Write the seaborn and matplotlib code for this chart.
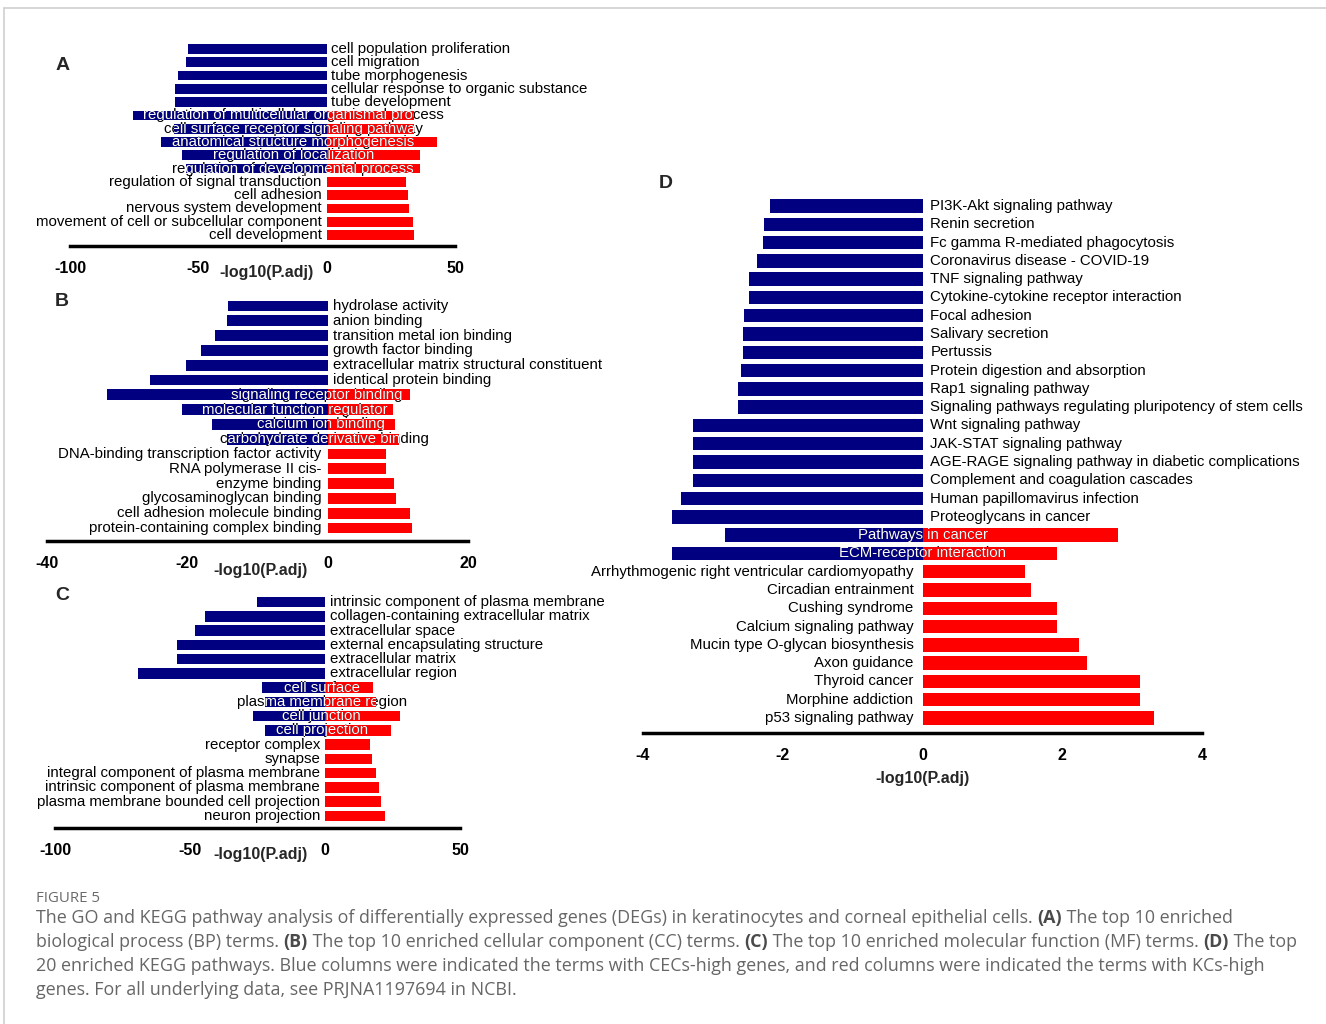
import pandas as pd
import seaborn as sns
import matplotlib.pyplot as plt
from matplotlib.lines import Line2D

W, H = 1326, 1024
NAVY = "#000080"
RED = "#ff0000"

# ---- Panel A: biological process ----
A_terms = ["cell population proliferation", "cell migration", "tube morphogenesis",
           "cellular response to organic substance", "tube development",
           "regulation of multicellular organismal process", "cell surface receptor signaling pathway",
           "anatomical structure morphogenesis", "regulation of localization",
           "regulation of developmental process", "regulation of signal transduction",
           "cell adhesion", "nervous system development",
           "movement of cell or subcellular component", "cell development"]
A_blue = [-54.2, -54.9, -57.9, -58.9, -58.9, -75.4, -59.3, -64.5, -56.4, -54.9,
          None, None, None, None, None]
A_red = [None, None, None, None, None, 34.1, 34.0, 43.0, 36.4, 36.4,
         30.9, 31.6, 32.0, 33.8, 34.1]

# ---- Panel B: molecular function ----
B_terms = ["hydrolase activity", "anion binding", "transition metal ion binding",
           "growth factor binding", "extracellular matrix structural constituent",
           "identical protein binding", "signaling receptor binding",
           "molecular function regulator", "calcium ion binding",
           "carbohydrate derivative binding", "DNA-binding transcription factor activity",
           "RNA polymerase II cis-", "enzyme binding", "glycosaminoglycan binding",
           "cell adhesion molecule binding", "protein-containing complex binding"]
B_blue = [-14.2, -14.3, -16.0, -18.1, -20.2, -25.3, -31.4, -20.7, -16.5, -14.4,
          None, None, None, None, None, None]
B_red = [None, None, None, None, None, None, 11.7, 9.3, 9.6, 10.1,
         8.3, 8.3, 9.5, 9.7, 11.7, 12.0]

# ---- Panel C: cellular component ----
C_terms = ["intrinsic component of plasma membrane", "collagen-containing extracellular matrix",
           "extracellular space", "external encapsulating structure", "extracellular matrix",
           "extracellular region", "cell surface", "plasma membrane region", "cell junction",
           "cell projection", "receptor complex", "synapse",
           "integral component of plasma membrane", "intrinsic component of plasma membrane",
           "plasma membrane bounded cell projection", "neuron projection"]
C_blue = [-25.1, -44.6, -48.3, -54.8, -54.8, -69.4, -23.4, -22.2, -26.8, -22.2,
          None, None, None, None, None, None]
C_red = [None, None, None, None, None, None, 17.8, 18.8, 27.8, 24.5,
         16.7, 17.3, 19.0, 20.0, 20.7, 22.4]

# ---- Panel D: KEGG ----
D_terms = ["PI3K-Akt signaling pathway", "Renin secretion", "Fc gamma R-mediated phagocytosis",
           "Coronavirus disease - COVID-19", "TNF signaling pathway",
           "Cytokine-cytokine receptor interaction", "Focal adhesion", "Salivary secretion",
           "Pertussis", "Protein digestion and absorption", "Rap1 signaling pathway",
           "Signaling pathways regulating pluripotency of stem cells", "Wnt signaling pathway",
           "JAK-STAT signaling pathway", "AGE-RAGE signaling pathway in diabetic complications",
           "Complement and coagulation cascades", "Human papillomavirus infection",
           "Proteoglycans in cancer", "Pathways in cancer", "ECM-receptor interaction",
           "Arrhythmogenic right ventricular cardiomyopathy", "Circadian entrainment",
           "Cushing syndrome", "Calcium signaling pathway", "Mucin type O-glycan biosynthesis",
           "Axon guidance", "Thyroid cancer", "Morphine addiction", "p53 signaling pathway"]
D_blue = [-2.18, -2.27, -2.28, -2.37, -2.48, -2.49, -2.55, -2.57, -2.57, -2.60, -2.64, -2.64,
          -3.28, -3.28, -3.28, -3.28, -3.46, -3.58, -2.82, -3.58,
          None, None, None, None, None, None, None, None, None]
D_red = [None] * 18 + [2.80, 1.93, 1.47, 1.55, 1.93, 1.93, 2.24, 2.36, 3.11, 3.11, 3.32]

sns.set_theme(style="white")
plt.rcParams["font.family"] = ["Liberation Sans", "DejaVu Sans"]
LABEL_FONT = ["Liberation Sans Narrow", "Liberation Sans", "DejaVu Sans"]

fig = plt.figure(figsize=(W / 100, H / 100), dpi=100)


def fx(x):
    return x / W


def fy(y):
    return 1 - y / H


def panel(terms, blue, red, xlim, ticks, px_left, px_right, first, last, axis_y,
          centers, gap_l, gap_r):
    n = len(terms)
    pitch = (last - first) / (n - 1)
    top = first - 0.5 * pitch
    ax = fig.add_axes([fx(px_left), fy(axis_y), (px_right - px_left) / W, (axis_y - top) / H])
    rows = []
    for i in range(n):
        if blue[i] is not None:
            rows.append((i, blue[i], "CECs"))
        if red[i] is not None:
            rows.append((i, red[i], "KCs"))
    df = pd.DataFrame(rows, columns=["row", "value", "side"])
    sns.barplot(data=df, x="value", y="row", hue="side", orient="h",
                order=list(range(n)), hue_order=["CECs", "KCs"],
                palette=[NAVY, RED], dodge=False, saturation=1, width=0.74,
                errorbar=None, legend=False, linewidth=0, ax=ax)
    ax.set_xlim(*xlim)
    ax.set_ylim(n - 1 + (axis_y - last) / pitch, -0.5)
    ax.set_yticks([])
    ax.set_xlabel("")
    ax.set_ylabel("")
    ax.set_xticks(ticks)
    ax.set_xticklabels([str(t) for t in ticks], fontsize=11.5, fontweight="bold")
    ax.tick_params(axis="x", direction="out", length=8, width=2.5, pad=3, colors="black")
    for s in ["left", "top", "right"]:
        ax.spines[s].set_visible(False)
    ax.spines["bottom"].set_linewidth(2.5)
    ax.spines["bottom"].set_color("black")
    ax.set_facecolor("none")

    # bars by row
    bars = {}
    for p in ax.patches:
        r = int(round(p.get_y() + p.get_height() / 2))
        bars.setdefault(r, []).append(p)

    unit = (px_right - px_left) / (xlim[1] - xlim[0])
    k = 0
    for i, term in enumerate(terms):
        kw = dict(va="center", fontsize=10.8, family=LABEL_FONT)
        if blue[i] is not None and red[i] is not None:
            c = centers[k]
            k += 1
            ax.text(c, i, term, ha="center", color="black", **kw)
            for p in bars.get(i, []):
                t = ax.text(c, i, term, ha="center", color="white", clip_on=True, **kw)
                t.set_clip_path(p)
        elif blue[i] is not None:
            ax.text(gap_r / unit, i, term, ha="left", color="black", **kw)
        else:
            ax.text(-gap_l / unit, i, term, ha="right", color="black", **kw)
    return ax


panel(A_terms, A_blue, A_red, (-100, 50), [-100, -50, 0, 50], 70, 455, 49, 235, 246,
      [-13, -13, -13, -13, -13], 5, 4)
panel(B_terms, B_blue, B_red, (-40, 20), [-40, -20, 0, 20], 47, 468, 306, 528, 541,
      [-1.6, -4.7, -1.0, -0.5], 6, 5)
panel(C_terms, C_blue, C_red, (-100, 50), [-100, -50, 0, 50], 55, 460, 602, 816, 828,
      [-1.2, -1.2, -1.2, -1.2], 5, 5)
panel(D_terms, D_blue, D_red, (-4, 4), [-4, -2, 0, 2, 4], 643, 1202, 206, 718, 733,
      [0, 0], 9, 8)

# x-axis titles and panel letters
for x, y, s in [(267, 273, "-log10(P.adj)"), (260, 570, "-log10(P.adj)"),
                (260, 854, "-log10(P.adj)"), (922, 778, "-log10(P.adj)")]:
    fig.text(fx(x), fy(y), s, ha="center", va="center", fontsize=11.5, fontweight="bold")
for x, y, s in [(63, 65, "A"), (62, 302, "B"), (62, 595, "C"), (666, 184, "D")]:
    fig.text(fx(x), fy(y), s, ha="center", va="center", fontsize=14, fontweight="bold")

# frame lines
fig.add_artist(Line2D([fx(4), 1], [fy(8), fy(8)], color="#d0d0d0", lw=1.2))
fig.add_artist(Line2D([fx(4), fx(4)], [fy(8), 0], color="#d0d0d0", lw=1.2))

# caption
CAP_FONT = ["Open Sans", "DejaVu Sans"]
fig.text(fx(36), fy(898), "FIGURE 5", ha="left", va="center", fontsize=10.8,
         color="#6a6a6a", family=CAP_FONT)
caption = [
    [("The GO and KEGG pathway analysis of differentially expressed genes (DEGs) in keratinocytes and corneal epithelial cells. ", False),
     ("(A)", True), (" The top 10 enriched", False)],
    [("biological process (BP) terms. ", False), ("(B)", True),
     (" The top 10 enriched cellular component (CC) terms. ", False), ("(C)", True),
     (" The top 10 enriched molecular function (MF) terms. ", False), ("(D)", True), (" The top", False)],
    [("20 enriched KEGG pathways. Blue columns were indicated the terms with CECs-high genes, and red columns were indicated the terms with KCs-high", False)],
    [("genes. For all underlying data, see PRJNA1197694 in NCBI.", False)],
]
renderer = fig.canvas.get_renderer()
for j, line in enumerate(caption):
    x = fx(36)
    y = fy(918 + 24 * j)
    for txt, bold in line:
        t = fig.text(x, y, txt, ha="left", va="center", fontsize=12.9,
                     fontweight="bold" if bold else "normal",
                     color="#4a4a4a" if bold else "#666666", family=CAP_FONT)
        x += t.get_window_extent(renderer=renderer).width / fig.bbox.width

fig.savefig("out.png", dpi=100, facecolor="white")
